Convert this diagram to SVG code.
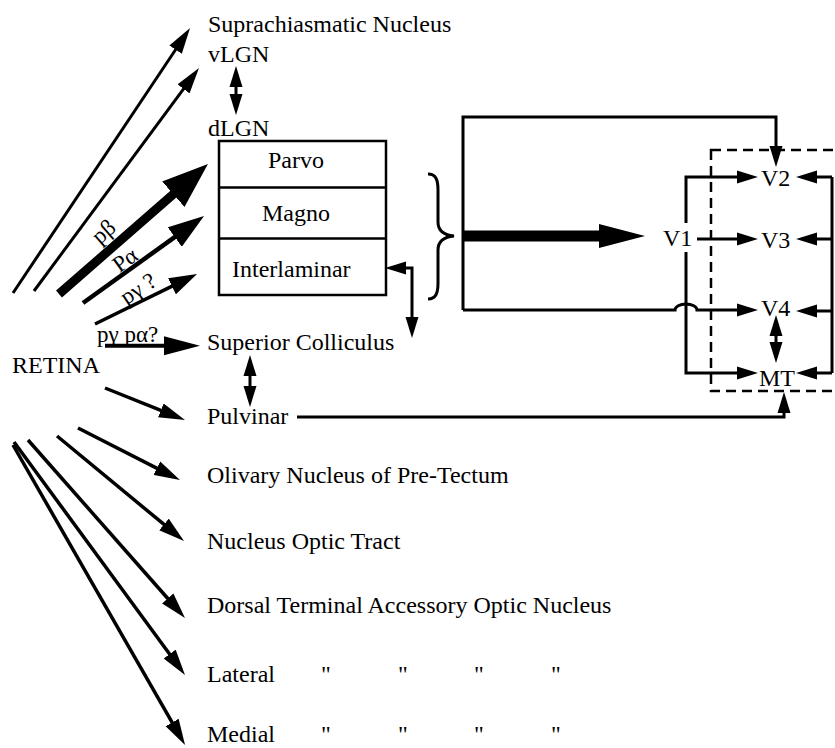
<svg xmlns="http://www.w3.org/2000/svg" width="835" height="748" viewBox="0 0 835 748">
<style>
text{font-family:"Liberation Serif","Times New Roman",serif;font-size:24px;fill:#000}
.lbl{font-size:23px}
.ln{fill:none;stroke:#000;stroke-width:3}
.box{fill:#fff;stroke:#000;stroke-width:2.5}
.dash{fill:none;stroke:#000;stroke-width:2.5;stroke-dasharray:10,6}
</style>
<defs>
<marker id="h1" markerUnits="userSpaceOnUse" viewBox="0 -8 26 16" markerWidth="26" markerHeight="16" refX="2" refY="0" orient="auto-start-reverse"><path d="M0,-7.5 L26,0 L0,7.5 z"/></marker>
<marker id="hb" markerUnits="userSpaceOnUse" viewBox="0 -17 46 34" markerWidth="46" markerHeight="34" refX="2" refY="0" orient="auto"><path d="M0,-17 L46,0 L0,17 z"/></marker>
<marker id="ha" markerUnits="userSpaceOnUse" viewBox="0 -12 36 24" markerWidth="36" markerHeight="24" refX="2" refY="0" orient="auto"><path d="M0,-12 L36,0 L0,12 z"/></marker>
<marker id="hg" markerUnits="userSpaceOnUse" viewBox="0 -9 28 18" markerWidth="28" markerHeight="18" refX="2" refY="0" orient="auto"><path d="M0,-9 L28,0 L0,9 z"/></marker>
<marker id="hs" markerUnits="userSpaceOnUse" viewBox="0 -10 36 20" markerWidth="36" markerHeight="20" refX="2" refY="0" orient="auto"><path d="M0,-9.5 L36,0 L0,9.5 z"/></marker>
<marker id="hv" markerUnits="userSpaceOnUse" viewBox="0 -7 21 14" markerWidth="21" markerHeight="14" refX="2" refY="0" orient="auto-start-reverse"><path d="M0,-6.5 L21,0 L0,6.5 z"/></marker>
<marker id="ht" markerUnits="userSpaceOnUse" viewBox="0 -12 46 24" markerWidth="46" markerHeight="24" refX="2" refY="0" orient="auto"><path d="M0,-12 L46,0 L0,12 z"/></marker>
</defs>

<g id="connectors">
  <!-- retina fan upward -->
  <line class="ln" x1="13" y1="293" x2="176.7" y2="48" marker-end="url(#h1)"/>
  <line class="ln" x1="34" y1="291" x2="184.7" y2="87.3" marker-end="url(#h1)"/>
  <line class="ln" x1="59" y1="294" x2="174.8" y2="192.9" style="stroke-width:9" marker-end="url(#hb)"/>
  <line class="ln" x1="83" y1="303" x2="176.4" y2="235.9" style="stroke-width:4.5" marker-end="url(#ha)"/>
  <line class="ln" x1="95" y1="324" x2="173.7" y2="285.4" style="stroke-width:3.5" marker-end="url(#hg)"/>
  <line class="ln" x1="105" y1="345.7" x2="166" y2="345.7" style="stroke-width:4" marker-end="url(#hs)"/>
  <!-- retina fan downward -->
  <line class="ln" x1="105" y1="388" x2="162.7" y2="411.1" style="stroke-width:3.5" marker-end="url(#h1)"/>
  <line class="ln" x1="78" y1="428" x2="158.6" y2="469.1" style="stroke-width:3.5" marker-end="url(#h1)"/>
  <line class="ln" x1="57" y1="436" x2="165.5" y2="525.7" style="stroke-width:3.5" marker-end="url(#h1)"/>
  <line class="ln" x1="28" y1="440" x2="169.1" y2="600" style="stroke-width:3.5" marker-end="url(#h1)"/>
  <line class="ln" x1="14" y1="442" x2="170.8" y2="655.7" style="stroke-width:3.5" marker-end="url(#h1)"/>
  <line class="ln" x1="13" y1="445" x2="173.1" y2="724.2" style="stroke-width:3.5" marker-end="url(#h1)"/>
  <!-- vertical double arrows -->
  <line class="ln" x1="236" y1="85" x2="236" y2="96" marker-start="url(#hv)" marker-end="url(#hv)"/>
  <line class="ln" x1="250" y1="374" x2="250" y2="388" marker-start="url(#hv)" marker-end="url(#hv)"/>
  <line class="ln" x1="776" y1="334" x2="776" y2="344" marker-start="url(#hv)" marker-end="url(#hv)"/>
  <!-- interlaminar / superior colliculus -->
  <path class="ln" d="M404,268 L412,268 L412,319" marker-start="url(#hv)" marker-end="url(#hv)"/>
  <!-- brace -->
  <path class="ln" d="M428,174 C436,174 438,180 438,190 L438,222 C438,230 443,235 454,236 C443,237 438,242 438,250 L438,283 C438,293 436,299 428,299"/>
  <!-- LGN output frame -->
  <path class="ln" d="M463,310 L463,117 L776,117 L776,148" marker-end="url(#hv)"/>
  <path class="ln" d="M463,310 L675,310 A11,6 0 0 1 697,310 L739,310" marker-end="url(#hv)"/>
  <line class="ln" x1="463" y1="236" x2="601" y2="236" style="stroke-width:11" marker-end="url(#ht)"/>
  <!-- V1 outputs -->
  <path class="ln" d="M686,223 L686,177 L739,177" marker-end="url(#hv)"/>
  <line class="ln" x1="697" y1="239" x2="739" y2="239" marker-end="url(#hv)"/>
  <path class="ln" d="M686,252 L686,373 L739,373" marker-end="url(#hv)"/>
  <!-- right column feedback -->
  <path class="ln" d="M832,177 L832,373"/>
  <line class="ln" x1="832" y1="177" x2="815" y2="177" marker-end="url(#hv)"/>
  <line class="ln" x1="832" y1="239" x2="815" y2="239" marker-end="url(#hv)"/>
  <line class="ln" x1="832" y1="311" x2="815" y2="311" marker-end="url(#hv)"/>
  <line class="ln" x1="832" y1="373" x2="815" y2="373" marker-end="url(#hv)"/>
  <!-- pulvinar to MT -->
  <path class="ln" d="M297,417 L784,417 L784,411" marker-end="url(#hv)"/>
  <!-- dashed extrastriate box -->
  <rect class="dash" x="711" y="150" width="140" height="241"/>
</g>

<g id="retina"><text x="12" y="373">RETINA</text></g>
<g id="scn"><text x="208" y="32">Suprachiasmatic Nucleus</text></g>
<g id="vlgn"><text x="208" y="62">vLGN</text></g>
<g id="dlgn">
  <text x="208" y="136">dLGN</text>
  <rect class="box" x="219" y="141" width="167" height="154"/>
  <line class="box" x1="219" y1="187.5" x2="386" y2="187.5"/>
  <line class="box" x1="219" y1="238.5" x2="386" y2="238.5"/>
  <text x="268" y="168">Parvo</text>
  <text x="262" y="221">Magno</text>
  <text x="232" y="277">Interlaminar</text>
</g>
<g id="sc"><text x="207" y="350">Superior Colliculus</text></g>
<g id="pulvinar"><text x="207" y="424">Pulvinar</text></g>
<g id="olivary"><text x="207" y="483">Olivary Nucleus of Pre-Tectum</text></g>
<g id="not"><text x="207" y="549">Nucleus Optic Tract</text></g>
<g id="dtaon"><text x="207" y="613">Dorsal Terminal Accessory Optic Nucleus</text></g>
<g id="lateral"><text x="207" y="682">Lateral</text><text x="321" y="682">"</text><text x="398" y="682">"</text><text x="474" y="682">"</text><text x="551" y="682">"</text></g>
<g id="medial"><text x="207" y="742">Medial</text><text x="321" y="742">"</text><text x="398" y="742">"</text><text x="474" y="742">"</text><text x="551" y="742">"</text></g>
<g id="v1"><text x="663" y="246">V1</text></g>
<g id="v2"><text x="761" y="186">V2</text></g>
<g id="v3"><text x="761" y="248">V3</text></g>
<g id="v4"><text x="761" y="316">V4</text></g>
<g id="mt"><text x="759" y="386">MT</text></g>
<g id="labels">
  <text class="lbl" text-anchor="middle" transform="translate(108.6,237.3) rotate(-41)">pβ</text>
  <text class="lbl" text-anchor="middle" transform="translate(129.5,265.9) rotate(-36)">Pα</text>
  <text class="lbl" text-anchor="middle" transform="translate(142.3,295) rotate(-33)">pγ ?</text>
  <text class="lbl" x="97" y="342">pγ pα?</text>
</g>
</svg>
